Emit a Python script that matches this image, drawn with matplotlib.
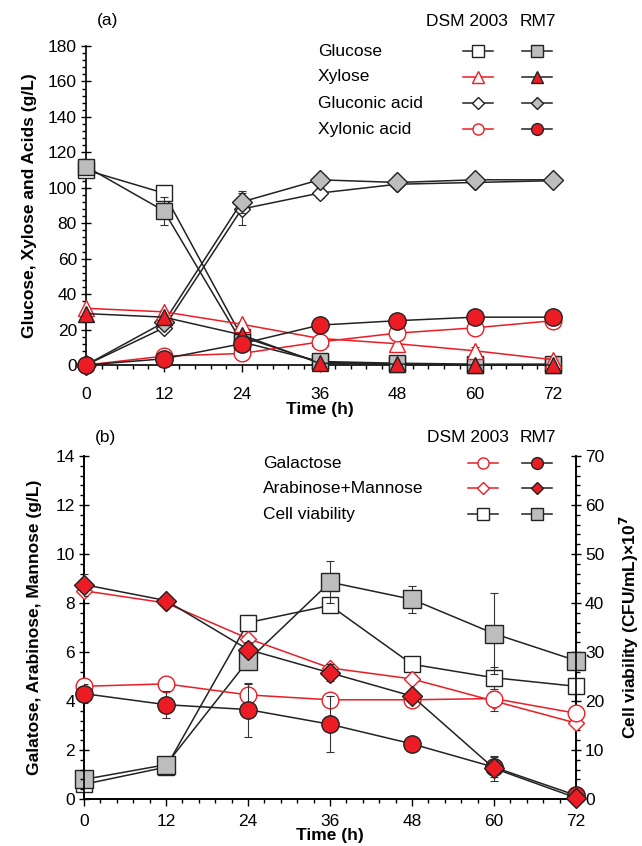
import numpy as np
import matplotlib
matplotlib.use('Agg')
import matplotlib.pyplot as plt
from matplotlib.lines import Line2D
from matplotlib.ticker import MultipleLocator

plt.rcParams['font.family'] = ['Liberation Sans', 'DejaVu Sans']

# ---- data ----
time_h = [0, 12, 24, 36, 48, 60, 72]

# (a) fermentation products, g/L
glucose_dsm = [110, 97, 16, 1.5, 0.5, 0, 0]
glucose_rm7 = [112, 87, 13, 2, 1, 0.5, 0.5]
glucose_dsm_err = [2, 3, 2, 0.5, 0.5, 0.3, 0.3]
glucose_rm7_err = [3, 8, 3, 0.5, 0.5, 0.3, 0.3]

xylose_dsm = [32, 30, 23, 15, 12, 8, 3]
xylose_rm7 = [29, 27, 17, 1, 0.5, 0, 0]
xylose_dsm_err = [1, 1, 1, 1, 2, 2, 0.5]
xylose_rm7_err = [1, 1, 1, 0.3, 0.3, 0.3, 0.3]

gluconic_dsm = [0, 21, 88, 97, 102, 103, 104]
gluconic_rm7 = [0, 24, 92, 104.5, 103, 104.5, 104.5]
gluconic_dsm_err = [0, 2, 9, 3, 1.5, 1.5, 1.5]
gluconic_rm7_err = [0, 1, 6, 1, 1, 1, 1]

xylonic_dsm = [0, 5, 6.5, 13, 18, 21, 25]
xylonic_rm7 = [0, 3.5, 12, 22.5, 25, 27, 27]
xylonic_dsm_err = [0, 1, 1, 1.5, 2, 2, 1]
xylonic_rm7_err = [0, 0.5, 1, 1, 1, 1, 1]

# (b) sugars g/L, viability CFU/mL x 10^7
galactose_dsm = [4.6, 4.7, 4.25, 4.05, 4.05, 4.1, 3.5]
galactose_rm7 = [4.3, 3.85, 3.65, 3.05, 2.25, 1.3, 0.15]
galactose_dsm_err = [0.1, 0.3, 0.45, 0.2, 0.1, 0.1, 0.1]
galactose_rm7_err = [0.4, 0.55, 1.1, 1.15, 0.1, 0.4, 0.1]

arabman_dsm = [8.5, 8.0, 6.55, 5.35, 4.9, 4.0, 3.1]
arabman_rm7 = [8.75, 8.1, 6.1, 5.15, 4.2, 1.25, 0.05]
arabman_dsm_err = [0.1, 0.1, 0.1, 0.1, 0.1, 0.4, 0.1]
arabman_rm7_err = [0.45, 0.1, 0.3, 0.35, 0.1, 0.5, 0.05]

viab_dsm = [3, 6.5, 36, 39.5, 27.5, 24.75, 23]
viab_rm7 = [4, 7, 28.25, 44.25, 40.75, 33.75, 28.25]
viab_dsm_err = [0.5, 0.5, 1.5, 1, 1, 2.25, 1.5]
viab_rm7_err = [0.5, 0.5, 2, 4.25, 2.75, 8.25, 1.5]

RED = '#EC1C24'
GRAY = '#BDBDBD'
BLK = '#222222'
FS = 12.5

W, H = 642, 846
fig = plt.figure(figsize=(W / 100, H / 100), dpi=100)


def fx(px):
    return px / W


def fy(py):
    return 1 - py / H


def series(ax, y, err, marker, ms, face, edge, line, z):
    ax.errorbar(time_h, y, yerr=err, fmt='none', ecolor='#333333',
                elinewidth=0.8, capsize=3, capthick=0.8, zorder=z)
    ax.plot(time_h, y, color=line, lw=1.1, marker=marker, ms=ms,
            mfc=face, mec=edge, mew=1.0, zorder=z + 0.5, clip_on=False)


def legend_row(x, y, marker, ms, face, edge, line):
    fig.add_artist(Line2D([fx(x - 15), fx(x), fx(x + 15)], [fy(y)] * 3,
                          color=line, lw=1.1, marker=marker, ms=ms,
                          markevery=[1], mfc=face, mec=edge, mew=1.0,
                          transform=fig.transFigure))


def style_y(ax, top, major, minor):
    ax.set_ylim(0, top)
    ax.yaxis.set_major_locator(MultipleLocator(major))
    ax.yaxis.set_minor_locator(MultipleLocator(minor))
    ax.tick_params(axis='y', which='major', direction='inout', length=7,
                   width=1.0, labelsize=FS, pad=3)
    ax.tick_params(axis='y', which='minor', direction='out', length=3,
                   width=1.0)


def style_x(ax, pad, labelpad):
    ax.set_xlim(0, 72)
    ax.xaxis.set_major_locator(MultipleLocator(12))
    ax.xaxis.set_minor_locator(MultipleLocator(2.4))
    ax.tick_params(axis='x', which='major', direction='out', length=5,
                   width=1.0, labelsize=FS, pad=pad)
    ax.tick_params(axis='x', which='minor', direction='out', length=3,
                   width=1.0)
    ax.set_xlabel('Time (h)', fontsize=FS, fontweight='bold',
                  labelpad=labelpad)


# ================= (a) =================
ax1 = fig.add_axes([fx(86), fy(365), fx(553) - fx(86), fy(46) - fy(365)])
for s in ['top', 'right']:
    ax1.spines[s].set_visible(False)
for s in ['left', 'bottom']:
    ax1.spines[s].set_linewidth(1.2)
style_y(ax1, 180, 20, 4)
style_x(ax1, 11, 0)
ax1.set_ylabel('Glucose, Xylose and Acids (g/L)', fontsize=FS,
               fontweight='bold', labelpad=8)

series(ax1, glucose_dsm, glucose_dsm_err, 's', 12, 'white', BLK, BLK, 3)
series(ax1, glucose_rm7, glucose_rm7_err, 's', 12, GRAY, BLK, BLK, 4)
series(ax1, gluconic_dsm, gluconic_dsm_err, 'D', 8, 'white', BLK, BLK, 3)
series(ax1, gluconic_rm7, gluconic_rm7_err, 'D', 10.5, GRAY, BLK, BLK, 4)
series(ax1, xylose_dsm, xylose_dsm_err, '^', 12, 'white', RED, RED, 5)
series(ax1, xylose_rm7, xylose_rm7_err, '^', 12, RED, BLK, BLK, 6)
series(ax1, xylonic_dsm, xylonic_dsm_err, 'o', 12, 'white', RED, RED, 5)
series(ax1, xylonic_rm7, xylonic_rm7_err, 'o', 12.5, RED, BLK, BLK, 6)

fig.text(fx(108), fy(21), '(a)', fontsize=FS, ha='center', va='center')
fig.text(fx(467), fy(22), 'DSM 2003', fontsize=FS, ha='center', va='center')
fig.text(fx(538), fy(22), 'RM7', fontsize=FS, ha='center', va='center')
top_rows = [
    ('Glucose', 's', 8, 'white', BLK, BLK, 's', 8, GRAY, BLK, BLK),
    ('Xylose', '^', 8, 'white', RED, RED, '^', 8, RED, BLK, BLK),
    ('Gluconic acid', 'D', 6, 'white', BLK, BLK, 'D', 6.5, GRAY, BLK, BLK),
    ('Xylonic acid', 'o', 8, 'white', RED, RED, 'o', 8.5, RED, BLK, BLK),
]
for i, row in enumerate(top_rows):
    y = 51 + i * 26
    fig.text(fx(318), fy(y), row[0], fontsize=FS, ha='left', va='center')
    legend_row(478, y, *row[1:6])
    legend_row(537, y, *row[6:11])

# ================= (b) =================
ax2 = fig.add_axes([fx(84), fy(799), fx(576) - fx(84), fy(456) - fy(799)])
ax3 = ax2.twinx()
# sugars (left axis) are drawn above the viability squares
ax2.set_zorder(ax3.get_zorder() + 1)
ax2.patch.set_visible(False)

for a in (ax2, ax3):
    a.spines['top'].set_visible(False)
    for s in ['left', 'bottom', 'right']:
        a.spines[s].set_linewidth(1.2)
style_y(ax2, 14, 2, 0.4)
style_x(ax2, 6, -1)
ax2.set_ylabel('Galatose, Arabinose, Mannose (g/L)', fontsize=FS,
               fontweight='bold', labelpad=10)
style_y(ax3, 70, 10, 2)
ax3.set_ylabel('Cell viability (CFU/mL)×10$^\\mathbf{7}$', fontsize=FS,
               fontweight='bold', labelpad=10)

series(ax3, viab_dsm, viab_dsm_err, 's', 12, 'white', BLK, BLK, 3)
series(ax3, viab_rm7, viab_rm7_err, 's', 12.5, GRAY, BLK, BLK, 4)
series(ax2, arabman_dsm, arabman_dsm_err, 'D', 8, 'white', RED, RED, 3)
series(ax2, galactose_dsm, galactose_dsm_err, 'o', 12, 'white', RED, RED, 3)
series(ax2, galactose_rm7, galactose_rm7_err, 'o', 12.5, RED, BLK, BLK, 4)
series(ax2, arabman_rm7, arabman_rm7_err, 'D', 10, RED, BLK, BLK, 5)

fig.text(fx(106), fy(437), '(b)', fontsize=FS, ha='center', va='center')
fig.text(fx(468), fy(437), 'DSM 2003', fontsize=FS, ha='center', va='center')
fig.text(fx(538), fy(437), 'RM7', fontsize=FS, ha='center', va='center')
bot_rows = [
    ('Galactose', 'o', 8, 'white', RED, RED, 'o', 8.5, RED, BLK, BLK),
    ('Arabinose+Mannose', 'D', 6, 'white', RED, RED, 'D', 6.5, RED, BLK, BLK),
    ('Cell viability', 's', 8, 'white', BLK, BLK, 's', 8, GRAY, BLK, BLK),
]
for i, row in enumerate(bot_rows):
    y = 463 + i * 25.5
    fig.text(fx(263), fy(y), row[0], fontsize=FS, ha='left', va='center')
    legend_row(483, y, *row[1:6])
    legend_row(537, y, *row[6:11])

fig.savefig('out.png', dpi=100)
